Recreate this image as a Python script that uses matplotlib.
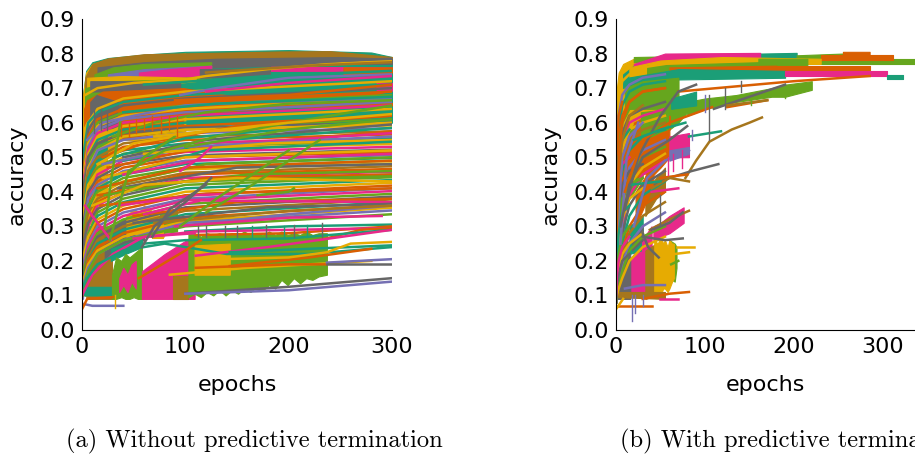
import matplotlib
matplotlib.use('Agg')
import matplotlib.pyplot as plt

colors = {'t': '#1b9e77', 'o': '#d95f02', 'p': '#7570b3', 'm': '#e7298a',
          'g': '#66a61e', 'y': '#e6ab02', 'b': '#a6761d', 'k': '#666666'}

# runs read on a shared epoch grid, lowest layer of each panel
left_grid = [0, 2, 6, 15, 40, 100, 300]
left_row_colors = 'ytkogypmytogkypbotgymkoptgybomkgtyopmgkbtoypgmkyotbg'
left_rows = [
    [.2,.5,.6,.64,.67,.69,.72], [.3,.52,.6,.63,.66,.68,.71], [.15,.45,.58,.62,.65,.67,.70],
    [.25,.48,.56,.61,.64,.66,.69], [.2,.46,.55,.6,.63,.65,.68], [.3,.46,.54,.59,.62,.64,.67],
    [.15,.42,.53,.58,.61,.63,.66], [.2,.44,.52,.57,.6,.62,.65], [.25,.42,.51,.56,.59,.61,.64],
    [.18,.4,.5,.55,.58,.6,.63], [.22,.4,.5,.54,.57,.59,.62], [.3,.42,.49,.53,.56,.58,.61],
    [.2,.42,.5,.54,.57,.585,.60], [.25,.38,.47,.52,.56,.58,.592], [.15,.35,.46,.52,.55,.57,.584],
    [.3,.4,.46,.5,.54,.56,.575], [.12,.3,.42,.49,.53,.55,.566], [.2,.36,.44,.49,.52,.54,.556],
    [.16,.33,.42,.47,.51,.53,.547], [.25,.35,.42,.46,.5,.525,.538], [.1,.28,.38,.45,.49,.515,.53],
    [.2,.32,.4,.44,.48,.505,.522], [.14,.28,.37,.43,.47,.5,.514], [.22,.3,.38,.42,.46,.49,.506],
    [.12,.26,.35,.41,.45,.48,.498], [.18,.3,.36,.4,.44,.47,.49], [.1,.24,.33,.39,.43,.465,.482],
    [.2,.28,.34,.38,.42,.455,.474], [.14,.24,.31,.37,.41,.45,.466], [.1,.22,.3,.36,.4,.44,.458],
    [.18,.26,.31,.35,.39,.43,.45], [.12,.2,.28,.34,.38,.42,.442], [.1,.2,.27,.33,.37,.41,.434],
    [.16,.22,.27,.32,.36,.4,.426], [.1,.18,.25,.31,.35,.39,.418], [.14,.2,.25,.3,.34,.38,.41],
    [.1,.18,.24,.29,.33,.375,.402], [.12,.18,.23,.28,.32,.365,.394], [.1,.16,.22,.27,.31,.355,.386],
    [.1,.16,.21,.26,.3,.345,.378], [.12,.16,.2,.25,.29,.335,.37], [.1,.15,.2,.24,.28,.325,.362],
    [.1,.15,.19,.23,.27,.315,.354], [.1,.14,.18,.22,.26,.31,.346], [.1,.13,.17,.22,.26,.3,.335],
]

left_bands = [
    ('t', [0,1,4,10,25,60,100,200,280,300], [.5,.5,.55,.55,.55,.57,.59,.6,.6,.6], [.6,.68,.75,.775,.787,.797,.805,.81,.803,.79]),
    ('y', [0,1,4,10,25,50,100], [.3,.4,.5,.55,.55,.55,.55], [.55,.68,.745,.77,.782,.79,.8]),
    ('b', [3,10,25,60,190,240,300], [.62,.73,.75,.77,.78,.78,.775], [.73,.77,.786,.798,.806,.807,.79]),
    ('k', [15,60,130,250,300], [.74,.752,.76,.77,.77], [.76,.775,.785,.79,.785]),
    ('g', [12,30,60,125], [.69,.72,.725,.725], [.74,.76,.77,.775]),
    ('p', [25,60,125], [.715,.73,.74], [.74,.755,.765]),
    ('m', [55,85,125], [.725,.73,.74], [.745,.755,.765]),
    ('y', [5,40,110], [.66,.7,.72], [.73,.735,.73]),
    ('k', [114,183], [.73,.735], [.755,.757]),
    ('t', [183,253], [.728,.73], [.748,.752]),
    ('m', [183,300], [.75,.75], [.762,.76]),
    ('o', [253,300], [.74,.745], [.76,.76]),
    ('g', [3,30,90], [.6,.66,.68], [.7,.72,.725]),
    ('t', [30,130,300], [.68,.7,.725], [.7,.72,.735]),
    ('k', [8,95], [.69,.695], [.72,.72]),
    ('o', [2,5,20,60,98,150,200,285,300], [.5,.54,.58,.61,.625,.635,.645,.65,.65], [.64,.665,.69,.695,.7,.675,.675,.69,.69]),
    ('m', [285,300], [.695,.69], [.715,.715]),
    ('t', [285,300], [.66,.66], [.68,.69]),
    ('k', [8,14,35], [.53,.55,.59], [.66,.68,.66]),
    ('o', [35,98], [.55,.585], [.64,.64]),
    ('y', [0,1,4,10,20,34], [.22,.3,.38,.45,.5,.52], [.5,.58,.6,.62,.58,.58]),
    ('p', [0,1,3,6,12], [.15,.2,.32,.4,.46], [.42,.5,.56,.58,.6]),
    ('t', [5,14,24], [.37,.44,.45], [.48,.54,.56]),
    ('y', [2,6,14,24], [.28,.3,.34,.4], [.36,.42,.48,.5]),
    ('p', [1,3,6], [.09,.2,.3], [.2,.3,.38]),
    ('b', [3,6,15,29,29], [.1,.09,.09,.09,.09], [.25,.3,.3,.3,.2]),
    ('t', [0,6,10,30], [.1,.1,.1,.1], [.12,.125,.125,.125]),
    ('k', [22,30,45,60], [.2,.22,.24,.26], [.27,.3,.33,.34]),
    ('t', [28,42,58], [.2,.22,.24], [.235,.25,.265]),
    ('g', [29,33,38,42,46,50,54,58], [.09,.09,.095,.09,.09,.095,.09,.09], [.16,.21,.2,.22,.21,.22,.23,.24]),
    ('m', [36,40,44,48,52], [.11,.13,.11,.14,.12], [.15,.18,.16,.19,.2]),
    ('m', [58,80,109,109], [.09,.09,.09,.2], [.17,.22,.275,.275]),
    ('b', [88,103], [.09,.09], [.155,.155]),
    ('g', [103,109,115,121,127,133,139,145,151,157,163,169,175,181,187,193,199,205,211,217,223,229,237],
          [.095,.105,.095,.11,.1,.115,.1,.115,.105,.12,.11,.125,.115,.13,.12,.145,.13,.15,.135,.15,.145,.155,.16],
          [.28,.28,.27,.28,.275,.28,.275,.28,.275,.285,.275,.28,.275,.285,.275,.285,.275,.28,.275,.285,.275,.28,.28]),
    ('y', [109,143], [.16,.16], [.245,.25]),
    ('y', [43,50,55,60,70,79], [.27,.28,.27,.28,.27,.27], [.33,.35,.34,.36,.34,.32]),
    ('g', [75,92], [.28,.285], [.34,.35]),
    ('y', [68,78], [.265,.265], [.31,.31]),
]

# single runs drawn on top: colour, epochs, accuracy
left_curves = [
    ('o', [20,60,150,300], [.5,.54,.59,.62]),
    ('t', [30,100,300], [.5,.555,.61]),
    ('y', [15,50,120,300], [.48,.54,.575,.6]),
    ('k', [40,120,300], [.5,.55,.595]),
    ('t', [40,140,300], [.49,.55,.585]),
    ('o', [25,120,300], [.47,.53,.575]),
    ('m', [110,200,300], [.54,.55,.57]),
    ('p', [20,100,300], [.48,.53,.56]),
    ('y', [60,180,300], [.51,.54,.55]),
    ('t', [30,120,300], [.44,.52,.545]),
    ('y', [20,100,300], [.44,.5,.52]),
    ('m', [40,110,300], [.45,.49,.51]),
    ('g', [30,120,300], [.42,.48,.5]),
    ('o', [15,100,300], [.41,.47,.49]),
    ('k', [35,150,300], [.41,.47,.48]),
    ('g', [40,160,300], [.41,.45,.46]),
    ('o', [15,120,300], [.39,.44,.45]),
    ('g', [22,100,300], [.39,.43,.445]),
    ('y', [10,60,150,300], [.36,.42,.44,.43]),
    ('o', [18,120,300], [.36,.395,.41]),
    ('m', [35,110,150], [.36,.39,.395]),
    ('o', [50,150,300], [.33,.37,.38]),
    ('m', [60,115,300], [.335,.375,.37]),
    ('k', [50,180,300], [.31,.355,.365]),
    ('p', [90,200,300], [.3,.335,.36]),
    ('b', [70,200,300], [.31,.345,.36]),
    ('m', [90,200,290], [.3,.325,.33]),
    ('t', [100,200,300], [.285,.3,.305]),
    ('o', [110,200,300], [.275,.28,.3]),
    ('m', [50,110,300], [.265,.285,.295]),
    ('o', [230,270,300], [.26,.29,.295]),
    ('t', [30,60,100,200,300], [.22,.25,.26,.265,.29]),
    ('m', [0,10,30,60,109], [.1,.16,.22,.27,.28]),
    ('t', [0,5,15,40,80,140,220,300], [.12,.15,.19,.23,.25,.22,.22,.24]),
    ('o', [55,100,115], [.15,.23,.26]),
    ('m', [110,180,300], [.215,.24,.29]),
    ('t', [143,220,300], [.225,.235,.245]),
    ('o', [143,220,280], [.185,.21,.235]),
    ('y', [135,200,237,260,300], [.205,.21,.225,.25,.255]),
    ('y', [85,160,280], [.16,.18,.2]),
    ('o', [110,200,237], [.18,.19,.19]),
    ('p', [237,300], [.195,.205]),
    ('k', [237,300], [.19,.19]),
    ('k', [100,200,300], [.105,.125,.15]),
    ('p', [100,200,240,300], [.105,.115,.125,.14]),
    ('p', [2,10,40], [.075,.07,.07]),
    ('o', [0,5,30], [.06,.09,.095]),
    ('m', [3,10,28], [.36,.33,.26]),
    ('g', [22,30,37], [.3,.47,.6]),
    ('g', [27,45,80,130,200,300], [.26,.46,.52,.56,.6,.65]),
    ('g', [45,60,90], [.45,.5,.56]),
    ('g', [120,165,200,230], [.34,.42,.49,.55]),
    ('k', [58,70,100,125], [.24,.3,.37,.44]),
    ('k', [68,85,120], [.27,.35,.42]),
    ('g', [95,130,175,200], [.3,.38,.47,.52]),
    ('m', [95,115,125], [.46,.5,.53]),
    ('g', [170,200,205], [.39,.4,.41]),
    ('p', [5,20,50,100,170,300], [.55,.6,.62,.65,.66,.67]),
    ('g', [30,70,120,200,300], [.56,.6,.63,.655,.665]),
    ('p', [95,130,200,300], [.68,.7,.73,.74]),
    ('y', [3,15,50,100,120,180,240,300], [.68,.7,.715,.725,.735,.755,.77,.78]),
    ('m', [120,200,300], [.69,.715,.735]),
    ('y', [70,200,300], [.56,.6,.625]),
    ('g', [100,200,300], [.53,.58,.61]),
    ('t', [60,180,300], [.71,.735,.75]),
    ('b', [120,220,300], [.745,.765,.775]),
    ('k', [220,300], [.775,.785]),
    ('o', [90,200,300], [.665,.68,.71]),
    ('t', [40,130,300], [.63,.655,.675]),
]

# sharp dips: colour, epoch, top, bottom
left_spikes = [
    ('k', 12, .64, .57), ('k', 18, .64, .58), ('k', 24, .63, .58), ('o', 38, .6, .56),
    ('o', 45, .6, .56), ('o', 52, .61, .57), ('o', 60, .61, .58), ('o', 68, .62, .58),
    ('o', 76, .62, .57), ('o', 84, .62, .58), ('o', 92, .62, .56),
    ('k', 112, .3, .27), ('k', 120, .3, .27), ('k', 138, .3, .27), ('k', 150, .3, .27),
    ('t', 165, .3, .27), ('k', 178, .305, .27), ('t', 195, .3, .27), ('k', 205, .305, .27),
    ('t', 218, .305, .27), ('k', 232, .31, .27), ('y', 32, .1, .065),
]

right_grid = [0, 1, 3, 7, 15, 30, 55]
right_row_colors = 'yptogkmybtopgymktobpgyotmkgypbotgykm'
right_rows = [
    [.1,.5,.66,.72,.74,.76,.77], [.1,.45,.62,.68,.71,.73,.74], [.08,.4,.58,.65,.69,.71,.72],
    [.1,.42,.55,.62,.66,.69,.7], [.08,.36,.52,.6,.64,.66,.68], [.1,.3,.48,.57,.62,.64,.66],
    [.08,.3,.46,.55,.6,.62,.64], [.1,.26,.42,.52,.58,.6,.62], [.1,.24,.4,.5,.55,.58,.6],
    [.08,.22,.36,.46,.52,.56,.58], [.1,.2,.33,.43,.5,.54,.56], [.08,.2,.3,.4,.47,.52,.55],
    [.1,.18,.27,.37,.44,.5,.53], [.08,.16,.25,.34,.42,.47,.51], [.1,.15,.23,.31,.39,.45,.49],
    [.08,.14,.2,.28,.36,.42,.46], [.1,.13,.18,.25,.33,.39,.43], [.08,.12,.17,.23,.3,.36,.4],
    [.1,.12,.15,.21,.28,.33,.37], [.08,.11,.14,.19,.25,.3,.34], [.1,.11,.13,.17,.23,.27,.3],
    [.08,.1,.12,.15,.2,.24,.27], [.1,.5,.62,.66], [.1,.4,.5,.55,.58], [.1,.3,.42,.48,.5],
    [.08,.25,.34,.42,.46,.48], [.1,.2,.3,.38,.42,.44], [.1,.16,.24,.32,.38,.41],
    [.08,.2,.35,.5,.56,.6], [.1,.3,.45,.55,.62,.65], [.1,.35,.5,.6,.66,.69,.7],
    [.1,.2,.28,.34,.36], [.08,.15,.22,.27,.3], [.1,.14,.18,.22,.25,.28], [.08,.13,.16,.2,.22],
    [.1,.16,.2,.24,.27],
]

right_bands = [
    ('g', [1,4,10,20,30], [.2,.3,.36,.4,.44], [.45,.5,.56,.58,.6]),
    ('o', [6,20,40], [.4,.44,.46], [.56,.6,.62]),
    ('g', [3,20,40,70], [.55,.58,.6,.62], [.7,.72,.74,.74]),
    ('y', [0,1,3,8,20,45], [.1,.3,.5,.55,.6,.62], [.55,.7,.745,.77,.785,.79]),
    ('t', [8,25,50], [.7,.74,.77], [.74,.775,.79]),
    ('g', [20,167,216], [.775,.785,.775], [.79,.797,.79]),
    ('g', [216,336], [.77,.77], [.785,.785]),
    ('t', [162,203], [.785,.785], [.8,.802]),
    ('g', [203,255], [.78,.785], [.795,.8]),
    ('o', [255,285], [.785,.79], [.805,.805]),
    ('o', [230,311], [.78,.78], [.795,.795]),
    ('m', [20,55,162], [.745,.78,.785], [.77,.8,.802]),
    ('y', [15,50,120,230], [.72,.755,.77,.77], [.76,.78,.79,.785]),
    ('g', [160,215], [.76,.765], [.785,.785]),
    ('o', [180,285], [.75,.75], [.765,.765]),
    ('g', [35,160], [.74,.755], [.765,.775]),
    ('o', [60,180], [.745,.75], [.76,.765]),
    ('t', [13,70,190], [.7,.725,.73], [.73,.755,.75]),
    ('m', [190,305], [.735,.735], [.75,.75]),
    ('t', [305,323], [.725,.725], [.738,.738]),
    ('g', [10,30,70,70], [.64,.64,.64,.7], [.7,.72,.73,.73]),
    ('o', [20,35,55], [.5,.53,.58], [.6,.62,.62]),
    ('g', [28,60,70,80], [.55,.58,.6,.63], [.63,.64,.65,.66]),
    ('g', [80,100,135,175,190,220], [.62,.64,.66,.675,.675,.695], [.66,.67,.68,.7,.71,.72]),
    ('t', [62,90], [.64,.65], [.67,.69]),
    ('o', [35,50,60,60], [.43,.47,.5,.56], [.55,.57,.58,.62]),
    ('m', [60,82,82], [.5,.5,.5], [.56,.57,.56]),
    ('p', [60,82], [.49,.51], [.52,.53]),
    ('b', [33,45,55], [.33,.38,.4], [.4,.44,.47]),
    ('o', [22,32,42], [.3,.36,.42], [.4,.44,.5]),
    ('p', [2,5,10], [.2,.22,.26], [.32,.38,.42]),
    ('t', [15,30], [.24,.28], [.3,.33]),
    ('y', [12,20,28,36], [.1,.1,.1,.15], [.18,.2,.24,.28]),
    ('m', [16,24,40], [.1,.1,.12], [.2,.24,.3]),
    ('b', [33,45], [.09,.1], [.23,.25]),
    ('g', [60,66,68], [.15,.14,.18], [.26,.25,.24]),
    ('y', [43,47,50,53,55,58,60,63,65], [.095,.11,.1,.12,.12,.11,.12,.14,.15], [.26,.25,.27,.25,.26,.24,.26,.25,.25]),
    ('k', [0,3,6,10,16], [.09,.09,.09,.09,.09], [.15,.2,.22,.25,.26]),
    ('t', [15,28], [.22,.23], [.25,.27]),
    ('m', [42,50,60,76], [.26,.27,.28,.31], [.3,.31,.33,.355]),
    ('k', [18,30], [.23,.26], [.26,.3]),
    ('b', [2,55], [.095,.09], [.11,.11]),
]

right_curves = [
    ('o', [70,200,285], [.69,.72,.735]),
    ('k', [10,25,50,70,90], [.35,.5,.62,.69,.71]),
    ('k', [110,190], [.64,.71]),
    ('o', [125,170], [.645,.665]),
    ('b', [125,170], [.65,.665]),
    ('b', [78,90,105,130,150,164], [.44,.49,.545,.58,.6,.615]),
    ('t', [82,118], [.56,.575]),
    ('k', [44,60,85,115], [.42,.44,.46,.48]),
    ('o', [50,80], [.44,.45]),
    ('b', [40,60,82], [.41,.44,.43]),
    ('t', [15,50], [.42,.43]),
    ('m', [40,70], [.4,.41]),
    ('p', [20,35,55,82], [.3,.44,.49,.52]),
    ('p', [5,12,25], [.25,.5,.6]),
    ('o', [10,30,60,108], [.4,.55,.6,.645]),
    ('k', [5,15,30,60,80], [.3,.42,.5,.55,.59]),
    ('t', [20,50,78], [.55,.58,.6]),
    ('b', [38,60,82], [.29,.32,.345]),
    ('k', [40,60,75], [.29,.31,.34]),
    ('k', [30,55,75], [.27,.26,.265]),
    ('k', [30,36,48], [.28,.24,.21]),
    ('y', [68,88], [.24,.24]),
    ('y', [66,82], [.22,.225]),
    ('g', [62,70], [.19,.2]),
    ('p', [10,30,55], [.12,.13,.13]),
    ('o', [30,60,82], [.09,.105,.11]),
    ('m', [50,70], [.09,.09]),
    ('o', [0,41], [.07,.07]),
    ('y', [0,8], [.06,.09]),
]

right_spikes = [
    ('p', 18, .1, .025), ('p', 21, .1, .05), ('p', 30, .1, .07), ('k', 105, .68, .55),
    ('k', 123, .7, .64), ('k', 141, .72, .69), ('k', 50, .39, .3), ('p', 100, .68, .63),
    ('m', 58, .5, .45), ('m', 64, .51, .46), ('m', 74, .52, .47), ('g', 152, .67, .65),
    ('g', 190, .7, .67), ('p', 85, .58, .55),
]

tick_y = [0.0, 0.1, 0.2, 0.3, 0.4, 0.5, 0.6, 0.7, 0.8, 0.9]
tick_x = [0, 100, 200, 300]


def draw(ax, grid, row_colors, rows, bands, curves, spikes, xmax):
    for c, y in zip(row_colors, rows):
        ax.plot(grid[:len(y)], y, color=colors[c], lw=1.8)
    for c, x, low, high in bands:
        ax.fill_between(x, low, high, color=colors[c], lw=0.8)
    for c, x, y in curves:
        ax.plot(x, y, color=colors[c], lw=1.8)
    for c, x, top, bottom in spikes:
        ax.plot([x, x], [top, bottom], color=colors[c], lw=1.0)
    ax.set_xlim(0, xmax)
    ax.set_ylim(0, 0.9)
    ax.set_xticks(tick_x)
    ax.set_yticks(tick_y)
    ax.tick_params(length=0, labelsize=16, pad=5)
    ax.set_xlabel('epochs', fontsize=16, labelpad=13)
    ax.set_ylabel('accuracy', fontsize=16, labelpad=9)
    ax.spines['top'].set_visible(False)
    ax.spines['right'].set_visible(False)
    ax.spines['left'].set_zorder(5)
    ax.spines['bottom'].set_zorder(5)


W, H = 915, 454
fig = plt.figure(figsize=(W / 100, H / 100), dpi=100)
ax1 = fig.add_axes([82 / W, 1 - 330 / H, 310 / W, 311 / H])
ax2 = fig.add_axes([616 / W, 1 - 330 / H, 299 / W, 311 / H])
draw(ax1, left_grid, left_row_colors, left_rows, left_bands, left_curves, left_spikes, 300)
draw(ax2, right_grid, right_row_colors, right_rows, right_bands, right_curves, right_spikes, 336)

fig.text(66 / W, 1 - 441 / H, '(a) Without predictive termination', family='cmr10', fontsize=17.7, va='center')
fig.text(620 / W, 1 - 441 / H, '(b) With predictive termination', family='cmr10', fontsize=17.7, va='center')

fig.savefig('out.png', dpi=100)
